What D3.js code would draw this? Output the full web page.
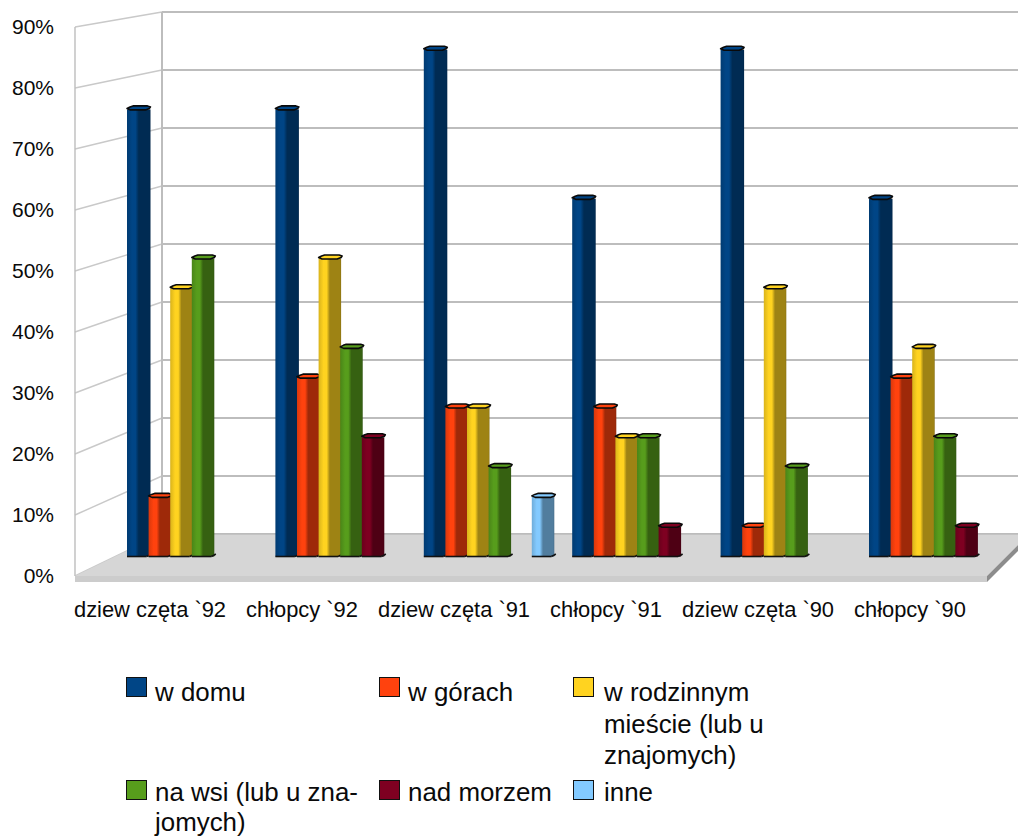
<!DOCTYPE html>
<html><head><meta charset="utf-8">
<script src="https://cdn.jsdelivr.net/npm/d3@7"></script>
<style>html,body{margin:0;padding:0;background:#fff}svg{display:block}text{font-family:"Liberation Sans",Arial,sans-serif;fill:#0a0a0a}</style>
</head><body><div id="c"></div>
<script>
const categories = ["dziew częta `92","chłopcy `92","dziew częta `91","chłopcy `91","dziew częta `90","chłopcy `90"];
const seriesNames = ["w domu","w górach","w rodzinnym","na wsi","nad morzem","inne"];
const seriesColors = ["#004586","#ff420e","#ffd320","#579d1c","#7e0021","#83caff"];
const wDomu = [75,75,85,60,85,60];
const wGorach = [10,30,25,25,5,30];
const wRodzinnym = [45,50,25,20,45,35];
const naWsi = [50,35,15,20,15,20];
const nadMorzem = [0,20,0,5,0,5];
const inne = [0,0,10,0,0,0];
const seriesValues = [wDomu,wGorach,wRodzinnym,naWsi,nadMorzem,inne];
const yTicks = [0,10,20,30,40,50,60,70,80,90];
const legendItems = [
 {i:0,lines:["w domu"]},
 {i:1,lines:["w górach"]},
 {i:2,lines:["w rodzinnym","mieście (lub u","znajomych)"]},
 {i:3,lines:["na wsi (lub u zna-","jomych)"]},
 {i:4,lines:["nad morzem"]},
 {i:5,lines:["inne"]}
];

const W=1018,H=836;
const svg=d3.select("#c").append("svg").attr("width",W).attr("height",H).attr("viewBox",`0 0 ${W} ${H}`);
const defs=svg.append("defs");
const xFront=75,xBack=162;
const yFront=d3.scaleLinear().domain([0,90]).range([576,27]);
const yBack=d3.scaleLinear().domain([0,90]).range([534,12]);
const yBar=d3.scaleLinear().domain([0,90]).range([556.5,20]);
const xGroup=d3.scaleBand().domain(categories).range([127,127+6*148.4]);
const xSlot=d3.scaleBand().domain(seriesNames).range([0,129.6]);
const xLabel=d3.scalePoint().domain(categories).range([150,910]);
const grid="#bdbdbd", gridSide="#c9c9c9";

// walls
const gw=svg.append("g");
gw.selectAll("line.b").data(yTicks).join("line").attr("x1",xBack).attr("x2",W)
 .attr("y1",d=>yBack(d)).attr("y2",d=>yBack(d)).attr("stroke",grid).attr("stroke-width",1.8);
gw.selectAll("line.s").data(yTicks).join("line").attr("x1",xFront).attr("x2",xBack)
 .attr("y1",d=>yFront(d)).attr("y2",d=>yBack(d)).attr("stroke",gridSide).attr("stroke-width",1.4);
gw.append("line").attr("x1",xBack).attr("x2",xBack).attr("y1",yBack(90)).attr("y2",yBack(0)).attr("stroke",grid).attr("stroke-width",2);
gw.append("line").attr("x1",xFront).attr("x2",xFront).attr("y1",yFront(90)).attr("y2",yFront(0)).attr("stroke",grid).attr("stroke-width",1.4);

// floor
const fb=yBack(0),ff=yFront(0),fr=987,fbr=1029,th=6;
svg.append("path").attr("d",d3.line()([[xFront,ff],[xBack,fb],[fbr,fb],[fr,ff]])+"Z").attr("fill","#d6d6d6");
svg.append("path").attr("d",d3.line()([[xBack,fb],[fbr,fb]])).attr("stroke",grid).attr("stroke-width",1.5);
svg.append("path").attr("d",d3.line()([[xFront,ff],[fr,ff],[fr,ff+th],[xFront,ff+th]])+"Z").attr("fill","#cccccc");
svg.append("path").attr("d",d3.line()([[fr,ff],[fbr,fb],[fbr,fb+th],[fr,ff+th]])+"Z").attr("fill","#8c8c8c");

// gradients
seriesColors.forEach((c,i)=>{
 const g=defs.append("linearGradient").attr("id","g"+i);
 const base=d3.color(c);
 const dark=d3.rgb(base.r*.62,base.g*.62,base.b*.62);
 const lo=d3.rgb(base.r*.85,base.g*.85,base.b*.85);
 [[0,lo],[.22,base],[.36,base],[.5,dark],[.95,dark],[1,d3.rgb(dark.r*.85,dark.g*.85,dark.b*.85)]]
  .forEach(([o,col])=>g.append("stop").attr("offset",o).attr("stop-color",col));
});

// bars
const w=22.5;
const barsG=svg.append("g");
categories.forEach((cat,ci)=>{
 seriesNames.forEach((s,si)=>{
  const v=seriesValues[si][ci];
  if(!v) return;
  const x0=xGroup(cat)+xSlot(s), t=yBar(v), b=yBar(0);
  const g=barsG.append("g");
  g.append("rect").attr("x",x0).attr("y",t).attr("width",w+(si===0?1:0)).attr("height",b-t).attr("fill",`url(#g${si})`);
  g.append("path").attr("d",d3.line()([[x0,b],[x0+w-3,b]])).attr("stroke","#111").attr("stroke-width",1.6).attr("fill","none");
  g.append("path").attr("d",d3.line()([[x0+w-3,b],[x0+w,b-1.5],[x0+w+1.5,b-2.5]])).attr("stroke","#111").attr("stroke-width",1.6).attr("fill","none");
  g.append("path").attr("d",d3.line()([[x0,t-1],[x0+3.5,t+.5],[x0+w-4,t+.5],[x0+w,t-1],[x0+w+1,t-2.5],[x0+w-2,t-3.5],[x0+6,t-3.5],[x0+3,t-2.5]])+"Z")
   .attr("fill",seriesColors[si]).attr("stroke","#0a0a0a").attr("stroke-width",1.6).attr("stroke-linejoin","round");
 });
});

// axis labels
svg.append("g").selectAll("text").data(yTicks).join("text")
 .attr("x",54).attr("y",d=>yFront(d)+7).attr("text-anchor","end").attr("font-size",21).text(d=>d+"%");
svg.append("g").selectAll("text").data(categories).join("text")
 .attr("x",d=>xLabel(d)).attr("y",617).attr("text-anchor","middle").attr("font-size",21.9).text(d=>d);

// legend
const lx=[126,379,573], ly=[677,780], baseY=[24,21], stepY=[31.5,29.5];
const lg=svg.append("g");
legendItems.forEach((it,k)=>{
 const col=k%3,row=Math.floor(k/3);
 const g=lg.append("g").attr("transform",`translate(${lx[col]},${ly[row]})`);
 g.append("rect").attr("x",.5).attr("y",.5).attr("width",20).attr("height",19).attr("fill",seriesColors[it.i]).attr("stroke","#111").attr("stroke-width",1);
 it.lines.forEach((ln,j)=>g.append("text").attr("x",col===2?31:29).attr("y",baseY[row]+j*stepY[row]).attr("font-size",25.9).text(ln));
});
</script></body></html>
